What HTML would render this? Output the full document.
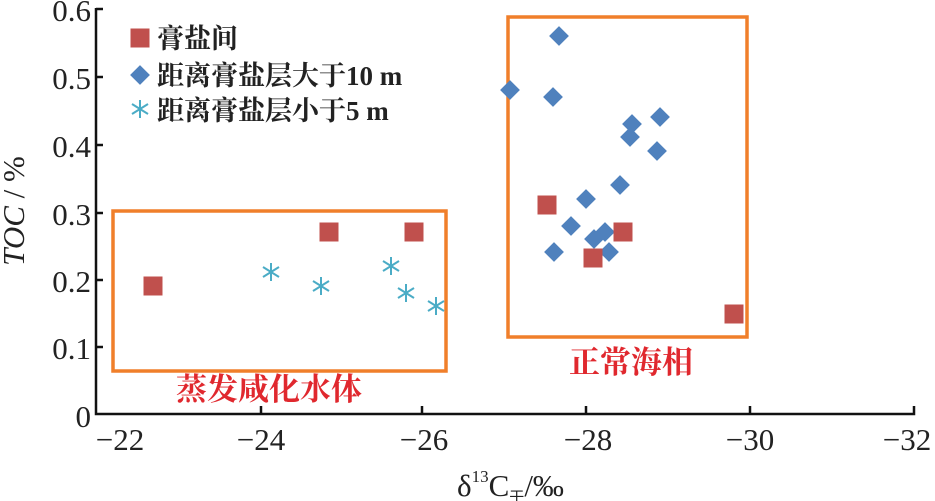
<!DOCTYPE html>
<html><head><meta charset="utf-8"><style>
html,body{margin:0;padding:0;background:#fff;}
svg{display:block;}
.t{font-family:"Liberation Serif",serif;font-size:31px;fill:#222;}
.c{font-family:"Liberation Serif","Noto Serif CJK SC",serif;font-weight:bold;}
</style></head><body>
<svg width="935" height="501" viewBox="0 0 935 501" xmlns="http://www.w3.org/2000/svg">
<defs>
<rect id="sq" x="-9.5" y="-9.5" width="19" height="19" fill="#c0504d"/>
<rect id="dm" x="-7" y="-7" width="14" height="14" fill="#4f81bd" transform="rotate(45)"/>
<g id="as" stroke="#4bacc6" stroke-width="2"><line x1="0" y1="-9" x2="0" y2="9"/><line x1="-8" y1="-5" x2="8" y2="5"/><line x1="-8" y1="5" x2="8" y2="-5"/></g>
</defs>
<g stroke="#111" stroke-width="2.5" fill="none">
<polyline points="96,8 96,414 914,414 914,406"/>
<line x1="96" y1="9" x2="103" y2="9"/><line x1="96" y1="77" x2="103" y2="77"/><line x1="96" y1="145" x2="103" y2="145"/>
<line x1="96" y1="213" x2="103" y2="213"/><line x1="96" y1="280" x2="103" y2="280"/><line x1="96" y1="347" x2="103" y2="347"/>
<line x1="261" y1="414" x2="261" y2="406"/><line x1="422" y1="414" x2="422" y2="406"/><line x1="586" y1="414" x2="586" y2="406"/><line x1="750" y1="414" x2="750" y2="406"/>
</g>
<g class="t" text-anchor="end">
<text x="91" y="21">0.6</text><text x="91" y="89">0.5</text><text x="91" y="157">0.4</text><text x="91" y="225">0.3</text><text x="91" y="292">0.2</text><text x="91" y="359">0.1</text><text x="91" y="427">0</text>
</g>
<g class="t" text-anchor="middle">
<text x="120" y="450">−22</text><text x="261" y="450">−24</text><text x="424" y="450">−26</text><text x="588" y="450">−28</text><text x="750" y="450">−30</text><text x="907" y="450">−32</text>
</g>
<text class="t" transform="translate(24,211) rotate(-90)" text-anchor="middle"><tspan font-style="italic">TOC</tspan> / %</text>
<text class="t" x="457" y="496">δ<tspan font-size="17" dy="-14">13</tspan><tspan dy="14">C</tspan><tspan font-size="15" dy="6" font-family="Noto Sans CJK SC,sans-serif">干</tspan><tspan dy="-6">/‰</tspan></text>
<g fill="none" stroke="#f07f2a" stroke-width="3.5">
<rect x="113" y="211" width="333" height="160"/>
<rect x="508" y="17" width="239" height="320"/>
</g>
<text class="c" x="176" y="400" font-size="31" fill="#e0282e">蒸发咸化水体</text>
<text class="c" x="569" y="373" font-size="31" fill="#e0282e">正常海相</text>
<use href="#sq" x="140" y="38"/><use href="#dm" x="140" y="75"/><use href="#as" x="140" y="109"/>
<g class="c" font-size="27" fill="#222">
<text x="157" y="48">膏盐间</text>
<text x="157" y="85">距离膏盐层大于10 m</text>
<text x="157" y="120">距离膏盐层小于5 m</text>
</g>
<use href="#sq" x="153" y="286"/><use href="#sq" x="329" y="232"/><use href="#sq" x="414" y="232"/>
<use href="#as" x="271" y="272"/><use href="#as" x="321" y="286"/><use href="#as" x="391" y="266"/><use href="#as" x="406" y="293"/><use href="#as" x="436" y="306"/>
<use href="#dm" x="559" y="36"/><use href="#dm" x="510" y="90"/><use href="#dm" x="553" y="97"/><use href="#dm" x="660" y="117"/>
<use href="#dm" x="632" y="124"/><use href="#dm" x="630" y="137"/><use href="#dm" x="657" y="151"/><use href="#dm" x="620" y="185"/>
<use href="#dm" x="586" y="199"/><use href="#dm" x="571" y="226"/><use href="#dm" x="605" y="232"/><use href="#dm" x="594" y="239"/>
<use href="#dm" x="554" y="252"/><use href="#dm" x="609" y="252"/>
<use href="#sq" x="547" y="205"/><use href="#sq" x="593" y="258"/><use href="#sq" x="623" y="232"/><use href="#sq" x="734" y="314"/>
</svg>
</body></html>
